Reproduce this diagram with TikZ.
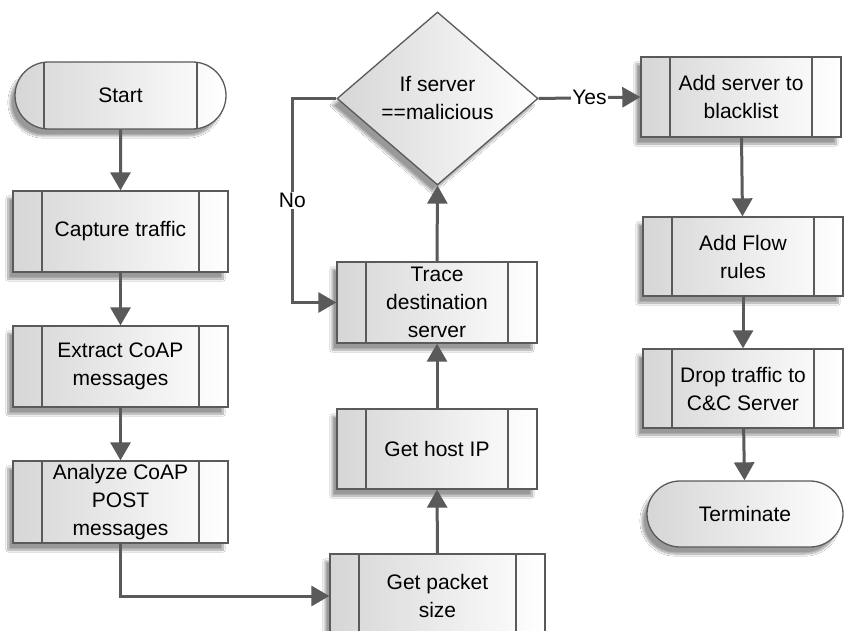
\documentclass[tikz,border=0pt]{standalone}
\usepackage{fontspec}
\setmainfont{Liberation Sans}
\usetikzlibrary{shapes.geometric,shapes.misc,arrows.meta,shadows.blur}
\definecolor{linegray}{HTML}{5A5A5A}
\definecolor{sidegray}{HTML}{D6D6D6}
\tikzset{
  x=1pt,y=-1pt,
  every node/.style={font=\fontsize{21}{28}\selectfont, align=center, inner sep=2pt},
  boxbase/.style={draw=linegray, line width=1.3pt, left color=sidegray, right color=white,
    blur shadow={shadow xshift=-5pt, shadow yshift=-7pt, shadow blur steps=12, shadow opacity=40}},
  innerlines/.style={path picture={
     \draw[linegray, line width=1.3pt]
       ([xshift=29pt]path picture bounding box.north west) -- ([xshift=29pt]path picture bounding box.south west)
       ([xshift=-29pt]path picture bounding box.north east) -- ([xshift=-29pt]path picture bounding box.south east);}},
  proc/.style={boxbase, innerlines, rectangle, minimum width=200pt, minimum height=80pt},
  procwide/.style={proc, minimum width=215pt},
  term/.style={boxbase, rounded rectangle, minimum width=200pt, minimum height=66pt},
  decision/.style={boxbase, diamond, minimum width=201pt, minimum height=173pt, inner sep=0pt},
  arr/.style={draw=linegray, line width=3pt, -{Triangle[length=18pt,width=20pt]}},
  lbl/.style={fill=white, inner sep=1pt}
}
\begin{document}
\begin{tikzpicture}
\useasboundingbox (0,0) rectangle (857,631);
\clip (0,0) rectangle (857,631);
\fill[white] (0,0) rectangle (857,631);

\node[term, innerlines, minimum width=215pt, minimum height=67pt] (start) at (120.5,95.5) {Start};
\node[procwide, minimum height=81pt] (capture) at (120.5,231.5) {Capture traffic};
\node[procwide, minimum height=81pt] (extract) at (120.5,366.5) {Extract CoAP\\messages};
\node[procwide, minimum height=82pt] (analyze) at (120.5,502) {Analyze CoAP\\POST\\messages};
\node[procwide, minimum height=84pt] (packet) at (437.5,596) {Get packet\\size};
\node[proc] (hostip) at (437,449) {Get host IP};
\node[proc, minimum height=81pt] (trace) at (437,302.5) {Trace\\destination\\server};
\node[decision] (dec) at (437.5,98.5) {If server\\==malicious};
\node[proc] (blacklist) at (741,97) {Add server to\\blacklist};
\node[proc, minimum height=79pt] (flow) at (743,256.5) {Add Flow\\rules};
\node[proc, minimum height=79pt] (drop) at (743,388.5) {Drop traffic to\\C\&C Server};
\node[term] (terminate) at (745,514) {Terminate};

\draw[arr] (start) -- (capture);
\draw[arr] (capture) -- (extract);
\draw[arr] (extract) -- (analyze);
\draw[arr] (analyze.south) |- (packet.west);
\draw[arr] (packet.north) -- (hostip.south);
\draw[arr] (hostip.north) -- (trace.south);
\draw[arr] (trace.north) -- (dec.south);
\draw[arr] (dec.west) -- ++(-44,0) |- node[pos=0.25, lbl] {No} (trace.west);
\draw[arr] (dec.east) -- node[lbl] {Yes} (blacklist.west);
\draw[arr] (blacklist) -- (flow);
\draw[arr] (flow) -- (drop);
\draw[arr] (drop) -- (terminate);
\end{tikzpicture}
\end{document}
